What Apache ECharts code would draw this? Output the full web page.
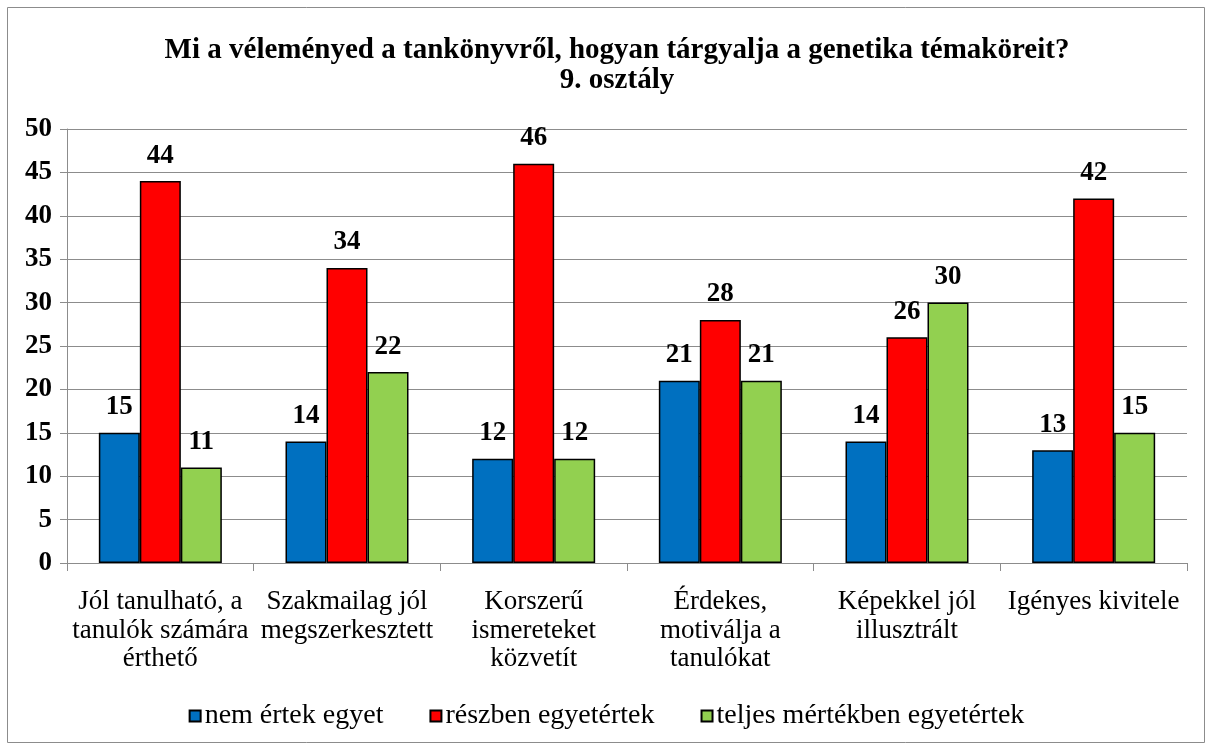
<!DOCTYPE html>
<html>
<head>
<meta charset="utf-8">
<script src="https://cdn.jsdelivr.net/npm/echarts@6/dist/echarts.min.js"></script>
<style>
  html, body { margin: 0; padding: 0; background: #fff; }
  #chart { width: 1213px; height: 751px; }
</style>
</head>
<body>
<div id="chart"></div>
<script>
  var categories = [
    'Jól tanulható, a\ntanulók számára\nérthető',
    'Szakmailag jól\nmegszerkesztett',
    'Korszerű\nismereteket\nközvetít',
    'Érdekes,\nmotiválja a\ntanulókat',
    'Képekkel jól\nillusztrált',
    'Igényes kivitele'
  ];
  var seriesNames = ['nem értek egyet', 'részben egyetértek', 'teljes mértékben egyetértek'];
  var nemErtek = [15, 14, 12, 21, 14, 13];
  var reszben = [44, 34, 46, 28, 26, 42];
  var teljes = [11, 22, 12, 21, 30, 15];
  var colors = ['#0070C0', '#FF0000', '#92D050'];

  var font = '"Liberation Serif", "Times New Roman", serif';
  var myChart = echarts.init(document.getElementById('chart'));

  function bar(name, data, color) {
    return {
      name: name,
      type: 'bar',
      data: data,
      barWidth: 41,
      barGap: '0%',
      itemStyle: { color: color, borderColor: '#000', borderWidth: 1.5 },
      label: {
        show: true,
        position: 'top',
        distance: 12,
        color: '#000',
        fontFamily: font,
        fontWeight: 'bold',
        fontSize: 27
      }
    };
  }

  var option = {
    animation: false,
    textStyle: { fontFamily: font },
    title: {
      text: 'Mi a véleményed a tankönyvről, hogyan tárgyalja a genetika témaköreit?\n9. osztály',
      left: 612,
      top: 31,
      textAlign: 'center',
      textStyle: { fontFamily: font, fontWeight: 'bold', fontSize: 29, color: '#000', lineHeight: 30 }
    },
    graphic: [{
      type: 'rect',
      shape: { x: 7.5, y: 7.5, width: 1197, height: 735 },
      style: { fill: 'none', stroke: '#8c8c8c', lineWidth: 1 },
      silent: true
    }],
    legend: {
      data: seriesNames,
      bottom: 16,
      left: 'center',
      itemWidth: 11,
      itemHeight: 11,
      itemGap: 46,
      icon: 'rect',
      textStyle: { fontFamily: font, fontSize: 28, color: '#000', padding: [0, 0, 0, -1] }
    },
    grid: { left: 67, right: 26, top: 129, bottom: 188, containLabel: false },
    xAxis: {
      type: 'category',
      data: categories,
      axisLine: { lineStyle: { color: '#8c8c8c', width: 1 } },
      axisTick: { show: true, length: 8, lineStyle: { color: '#8c8c8c' } },
      axisLabel: { color: '#000', fontFamily: font, fontSize: 27, lineHeight: 28.5, margin: 25, interval: 0 }
    },
    yAxis: {
      type: 'value',
      min: 0,
      max: 50,
      interval: 5,
      axisLine: { show: true, lineStyle: { color: '#8c8c8c', width: 1 } },
      axisTick: { show: true, length: 7, lineStyle: { color: '#8c8c8c' } },
      splitLine: { lineStyle: { color: '#8c8c8c', width: 1 } },
      axisLabel: { color: '#000', fontFamily: font, fontWeight: 'bold', fontSize: 27, margin: 15 }
    },
    series: [
      bar(seriesNames[0], nemErtek, colors[0]),
      bar(seriesNames[1], reszben, colors[1]),
      bar(seriesNames[2], teljes, colors[2])
    ]
  };
  myChart.setOption(option, true);
</script>
</body>
</html>
